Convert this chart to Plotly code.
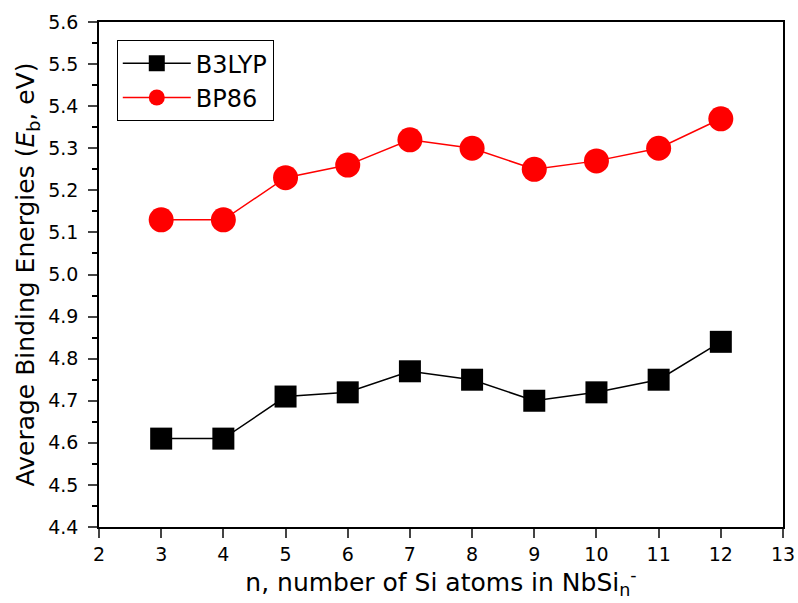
import plotly.graph_objects as go

n_atoms = [3, 4, 5, 6, 7, 8, 9, 10, 11, 12]
b3lyp = [4.61, 4.61, 4.71, 4.72, 4.77, 4.75, 4.70, 4.72, 4.75, 4.84]
bp86 = [5.13, 5.13, 5.23, 5.26, 5.32, 5.30, 5.25, 5.27, 5.30, 5.37]

fig = go.Figure()
fig.add_trace(go.Scatter(x=n_atoms, y=b3lyp, mode="lines+markers", name="B3LYP",
                         line=dict(color="black", width=1.5),
                         marker=dict(symbol="square", size=22, color="black")))
fig.add_trace(go.Scatter(x=n_atoms, y=bp86, mode="lines+markers", name="BP86",
                         line=dict(color="red", width=1.5),
                         marker=dict(symbol="circle", size=25, color="red")))

font = "DejaVu Sans, Liberation Sans, sans-serif"
fig.update_layout(
    template="none",
    width=798, height=603,
    margin=dict(l=99, r=15, t=22, b=76, autoexpand=False),
    plot_bgcolor="white", paper_bgcolor="white",
    font=dict(family=font, color="black"),
    showlegend=True,
    legend=dict(x=0.026, y=0.964, xanchor="left", yanchor="top",
                bordercolor="black", borderwidth=1, bgcolor="white",
                font=dict(size=24, family=font), itemsizing="trace",
                itemwidth=68, tracegroupgap=0),
    xaxis=dict(range=[2, 13], dtick=1, tick0=2, showline=True, linecolor="black",
               linewidth=1.5, mirror=True, ticks="outside", ticklen=9,
               tickwidth=1.5, showgrid=False, zeroline=False, automargin=False,
               tickfont=dict(size=19),
               title=dict(text="n, number of Si atoms in NbSi<sub>n</sub><sup>-</sup>",
                          font=dict(size=25), standoff=4)),
    yaxis=dict(range=[4.4, 5.6], dtick=0.1, tick0=4.4, tickformat=".1f",
               showline=True, linecolor="black", linewidth=1.5, mirror=True,
               ticks="outside", ticklen=9, tickwidth=1.5, showgrid=False,
               zeroline=False, automargin=False, tickfont=dict(size=19),
               ticklabelstandoff=6,
               minor=dict(dtick=0.05, ticks="outside", ticklen=5, tickwidth=1.5,
                          tickcolor="black", showgrid=False),
               title=dict(text="Average Binding Energies (<i>E</i><sub>b</sub>, eV)",
                          font=dict(size=25), standoff=6)),
)
fig.write_html("out.html", config={"displayModeBar": False},
               post_script="document.body.style.margin='0px';")
